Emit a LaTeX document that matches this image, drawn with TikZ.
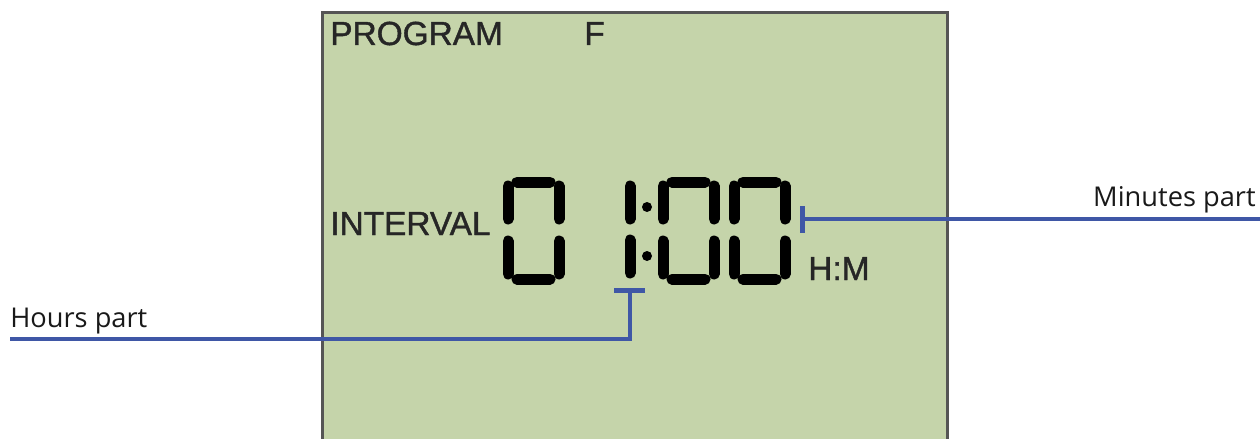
\documentclass[tikz,border=0pt]{standalone}
\usepackage{fontspec}
\usepackage{tikz}
\usetikzlibrary{positioning, calc}
\newfontfamily\lcdfont[FakeBold=1.2]{Liberation Sans}
\newfontfamily\notefont{Open Sans}
\definecolor{lcdgreen}{HTML}{C5D4AA}
\definecolor{lcdframe}{HTML}{555555}
\definecolor{lcdink}{HTML}{262626}
\definecolor{calloutblue}{HTML}{3F57A6}

\begin{document}
\begin{tikzpicture}[x=0.02cm, y=-0.02cm,
      seg/.style={line width=0.22cm, line cap=round, black},
      lcdtext/.style={font=\lcdfont\fontsize{19}{20}\selectfont, text=lcdink, inner sep=0pt, anchor=base west},
      note/.style={font=\notefont\fontsize{15.5}{18}\selectfont, text=black!90, inner sep=0pt},
      callout/.style={draw=calloutblue, line width=0.08cm},
      tickmark/.style={draw=calloutblue, line width=0.1cm}
    ]
      \useasboundingbox (0,0) rectangle (1260,439);

      % LCD panel
      \fill[lcdgreen] (322,13) rectangle (947,439);
      \draw[lcdframe, line width=0.06cm] (322,439) |- (947,13) -- (947,439);

      \node[lcdtext] (program) at (330,45) {PROGRAM};
      \node[lcdtext] (fkey) at (584,45) {F};
      \node[lcdtext] (interval) at (330,235) {INTERVAL};
      \node[lcdtext] (hm) at (808,280) {H:M};

      % Zeros
      \foreach \x in {502,657,728} {
        \draw[seg] (\x+6,186) -- (\x+6,219);
        \draw[seg] (\x+6,241) -- (\x+6,274);
        \draw[seg] (\x+57,186) -- (\x+57,219);
        \draw[seg] (\x+57,241) -- (\x+57,274);
        \draw[seg] (\x+15,182) -- (\x+48,182);
        \draw[seg] (\x+15,279) -- (\x+48,279);
      }
      % The one and the colon
      \draw[seg] (630,186) -- (630,219);
      \draw[seg] (630,240) -- (630,273);
      \fill (647,207) circle[radius=0.1cm];
      \fill (647,256) circle[radius=0.1cm];

      % Minutes callout
      \node[note, anchor=base east] (minutes) at (1256,206) {Minutes part};
      \coordinate (mintop) at (802,206);
      \coordinate (minbot) at (802,233);
      \coordinate (minjoin) at (802,219);
      \coordinate (minend) at (1260,219);
      \draw[tickmark] (mintop) -- (minbot);
      \draw[callout] (minjoin) -- (minend);

      % Hours callout
      \node[note, anchor=base west] (hours) at (10,327) {Hours part};
      \coordinate (hrsleft) at (614,290);
      \coordinate (hrsright) at (645,290);
      \coordinate (hrsjoin) at (630,290);
      \coordinate (hrsend) at (10,339);
      \draw[tickmark] (hrsleft) -- (hrsright);
      \draw[callout] (hrsjoin) |- (hrsend);
    \end{tikzpicture}
\end{document}
